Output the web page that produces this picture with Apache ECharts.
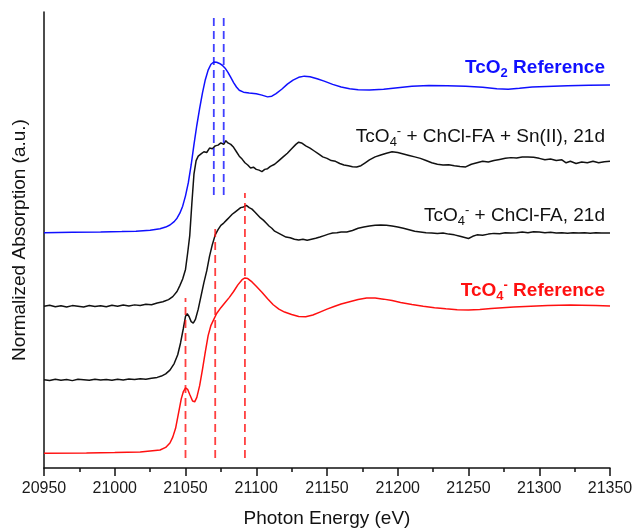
<!DOCTYPE html>
<html>
<head>
<meta charset="utf-8">
<title>Tc K-edge XANES</title>
<script src="https://cdn.jsdelivr.net/npm/echarts@6/dist/echarts.min.js"></script>
<style>
  html, body { margin: 0; padding: 0; background: #ffffff; }
  #chart { width: 634px; height: 529px; }
</style>
</head>
<body>
<div id="chart"></div>
<script>
// Normalized Tc K-edge XANES spectra, stacked with vertical offsets.

const xTicks = [20950, 21350, 50];

// TcO2 reference
const tco2Energy = [20950, 20970, 20990, 21005, 21015, 21025, 21032, 21036, 21039, 21042, 21044, 21046, 21048, 21050, 21052, 21054, 21056, 21058, 21060, 21062, 21064, 21066, 21068, 21070, 21072, 21074, 21076, 21078, 21080, 21082, 21084, 21086, 21088, 21091, 21095, 21100, 21104, 21108, 21111, 21114, 21118, 21122, 21126, 21130, 21134, 21138, 21143, 21148, 21154, 21160, 21166, 21172, 21180, 21190, 21200, 21210, 21222, 21235, 21248, 21260, 21270, 21278, 21286, 21295, 21305, 21320, 21335, 21350];
const tco2Mu = [0.000, 0.002, 0.004, 0.007, 0.010, 0.016, 0.026, 0.038, 0.052, 0.075, 0.098, 0.132, 0.180, 0.250, 0.340, 0.460, 0.600, 0.730, 0.845, 0.950, 1.040, 1.105, 1.145, 1.160, 1.158, 1.150, 1.138, 1.118, 1.090, 1.055, 1.020, 0.990, 0.968, 0.955, 0.950, 0.944, 0.935, 0.923, 0.928, 0.945, 0.975, 1.010, 1.037, 1.056, 1.064, 1.060, 1.046, 1.030, 1.008, 0.990, 0.978, 0.972, 0.970, 0.975, 0.985, 0.995, 1.000, 0.998, 0.995, 0.988, 0.978, 0.975, 0.982, 0.990, 0.994, 0.998, 1.002, 1.004];

// TcO4- + ChCl-FA + Sn(II), 21 d
const snEnergy = [20950, 20954, 20958, 20962, 20966, 20970, 20974, 20978, 20982, 20986, 20990, 20994, 20998, 21002, 21006, 21010, 21014, 21018, 21022, 21026, 21030, 21034, 21038, 21041, 21044, 21046, 21048, 21050, 21051.5, 21053, 21054.5, 21056, 21057.5, 21059, 21061, 21063, 21065, 21067, 21069, 21071, 21073, 21075, 21077, 21078.5, 21080, 21082, 21084, 21086, 21088, 21090, 21092, 21094, 21096, 21098, 21100, 21102, 21104, 21106, 21108, 21110, 21113, 21116, 21119, 21122, 21125, 21128, 21130, 21132, 21135, 21138, 21141, 21144, 21147, 21150, 21153, 21156, 21159, 21162, 21165, 21168, 21171, 21174, 21177, 21180, 21184, 21188, 21192, 21196, 21200, 21204, 21208, 21212, 21216, 21220, 21224, 21228, 21232, 21236, 21240, 21244, 21248, 21252, 21256, 21260, 21264, 21268, 21272, 21276, 21280, 21284, 21288, 21292, 21296, 21300, 21304, 21308, 21312, 21316, 21319, 21322, 21326, 21330, 21334, 21338, 21342, 21346, 21350];
const snMu = [0.000, 0.006, -0.004, 0.003, -0.006, 0.004, 0.000, -0.005, 0.005, -0.002, 0.003, -0.004, 0.006, 0.000, 0.008, 0.002, 0.009, 0.004, 0.013, 0.010, 0.022, 0.030, 0.045, 0.065, 0.100, 0.140, 0.185, 0.250, 0.360, 0.480, 0.700, 0.900, 0.990, 1.020, 1.035, 1.050, 1.045, 1.075, 1.070, 1.090, 1.095, 1.110, 1.100, 1.125, 1.110, 1.100, 1.080, 1.050, 1.020, 1.000, 0.975, 0.960, 0.940, 0.945, 0.930, 0.925, 0.915, 0.930, 0.935, 0.950, 0.965, 0.990, 1.015, 1.040, 1.070, 1.100, 1.115, 1.110, 1.090, 1.075, 1.055, 1.035, 1.015, 1.005, 0.990, 0.985, 0.970, 0.960, 0.955, 0.948, 0.946, 0.955, 0.975, 0.995, 1.015, 1.028, 1.040, 1.050, 1.045, 1.035, 1.025, 1.015, 1.005, 0.990, 0.975, 0.965, 0.960, 0.962, 0.955, 0.950, 0.947, 0.965, 0.975, 0.985, 0.980, 0.990, 0.998, 1.005, 1.010, 1.008, 1.014, 1.015, 1.012, 1.005, 0.995, 1.000, 0.990, 0.995, 0.975, 0.985, 0.970, 0.980, 0.975, 0.985, 0.975, 0.982, 0.985];

// TcO4- + ChCl-FA, 21 d
const fa21Energy = [20950, 20954, 20958, 20962, 20966, 20970, 20974, 20978, 20982, 20986, 20990, 20994, 20998, 21002, 21006, 21010, 21014, 21018, 21022, 21026, 21030, 21033, 21036, 21039, 21042, 21044.5, 21046.5, 21048.5, 21050, 21051.2, 21052.5, 21054, 21055.5, 21057, 21059, 21061, 21063, 21065, 21067, 21069, 21071, 21073, 21075, 21077, 21079, 21081, 21083, 21085, 21087, 21089, 21091, 21093, 21095, 21097, 21099, 21101, 21103, 21105, 21107, 21109, 21111, 21113, 21115, 21118, 21121, 21124, 21127, 21130, 21133, 21136, 21139, 21142, 21145, 21148, 21151, 21154, 21157, 21160, 21164, 21168, 21172, 21176, 21180, 21184, 21188, 21192, 21196, 21200, 21204, 21208, 21212, 21216, 21220, 21224, 21228, 21232, 21236, 21240, 21244, 21248, 21250, 21253, 21256, 21260, 21264, 21268, 21272, 21276, 21280, 21284, 21288, 21292, 21296, 21300, 21304, 21308, 21312, 21316, 21320, 21324, 21328, 21332, 21336, 21340, 21344, 21350];
const fa21Mu = [0.000, -0.005, 0.004, -0.003, 0.002, -0.006, 0.003, 0.000, -0.004, 0.004, -0.002, 0.002, -0.004, 0.003, -0.002, 0.005, 0.001, 0.006, 0.004, 0.010, 0.016, 0.025, 0.040, 0.065, 0.110, 0.170, 0.250, 0.350, 0.430, 0.450, 0.430, 0.395, 0.385, 0.410, 0.480, 0.570, 0.660, 0.740, 0.840, 0.920, 0.985, 1.020, 1.050, 1.065, 1.085, 1.105, 1.125, 1.140, 1.155, 1.170, 1.175, 1.185, 1.170, 1.160, 1.140, 1.120, 1.100, 1.085, 1.065, 1.045, 1.030, 1.010, 1.000, 0.985, 0.970, 0.965, 0.955, 0.950, 0.955, 0.948, 0.955, 0.962, 0.970, 0.980, 0.990, 0.998, 1.000, 1.005, 1.004, 1.015, 1.030, 1.038, 1.045, 1.050, 1.052, 1.050, 1.045, 1.038, 1.030, 1.020, 1.010, 1.005, 1.000, 0.998, 0.995, 0.998, 0.990, 0.985, 0.975, 0.965, 0.960, 0.975, 0.985, 0.982, 0.990, 0.995, 0.992, 1.000, 0.998, 1.000, 1.004, 1.000, 1.006, 1.004, 1.000, 1.002, 0.998, 1.000, 0.996, 1.000, 0.998, 1.000, 0.996, 1.000, 0.997, 0.998];

// TcO4- reference
const tco4Energy = [20950, 20980, 21000, 21018, 21032, 21036, 21039, 21041, 21043, 21045, 21047, 21048.5, 21050, 21051.5, 21053, 21055, 21056.5, 21058, 21060, 21062, 21064, 21066, 21068, 21070, 21072, 21075, 21078, 21081, 21084, 21087, 21090, 21092, 21094, 21097, 21100, 21104, 21108, 21112, 21116, 21120, 21125, 21130, 21135, 21140, 21145, 21150, 21155, 21160, 21166, 21172, 21178, 21184, 21190, 21196, 21202, 21210, 21218, 21226, 21234, 21242, 21250, 21258, 21266, 21274, 21282, 21290, 21298, 21306, 21314, 21322, 21330, 21340, 21350];
const tco4Mu = [0.000, 0.002, 0.005, 0.009, 0.022, 0.040, 0.070, 0.110, 0.170, 0.270, 0.370, 0.420, 0.445, 0.435, 0.400, 0.355, 0.350, 0.380, 0.460, 0.570, 0.690, 0.800, 0.870, 0.910, 0.950, 0.990, 1.025, 1.060, 1.100, 1.145, 1.180, 1.192, 1.188, 1.165, 1.135, 1.095, 1.050, 1.010, 0.980, 0.960, 0.943, 0.930, 0.928, 0.940, 0.960, 0.980, 0.998, 1.015, 1.030, 1.045, 1.055, 1.056, 1.048, 1.038, 1.025, 1.012, 1.000, 0.990, 0.982, 0.976, 0.974, 0.978, 0.985, 0.990, 0.994, 0.998, 1.001, 1.004, 1.006, 1.008, 1.007, 1.004, 1.001];

// stacking offsets (bottom to top: TcO4-, ChCl-FA, Sn(II), TcO2)
const offsets = { tco4: 0.0, fa21: 0.5, sn: 1.0, tco2: 1.5 };

// vertical guide lines at features
const blueGuideEnergy = [21070, 21077];
const blueGuideRange = [1.756, 2.99];
const redGuideEnergy = [21050, 21071, 21092];
const redGuideTop = [1.056, 1.538, 1.770];
const redGuideBottom = -0.032;

const BLUE = '#1010ff';
const RED = '#ff1010';
const BLACK = '#111111';
const FONT = '"Liberation Sans", Arial, Helvetica, sans-serif';

function pairs(xs, ys, off) {
  return xs.map((x, i) => [x, ys[i] + off]);
}

function curve(name, xs, ys, off, color) {
  return {
    name: name,
    type: 'line',
    data: pairs(xs, ys, off),
    showSymbol: false,
    symbol: 'none',
    smooth: false,
    lineStyle: { color: color, width: 1.5 },
    silent: true,
    z: 3
  };
}

function guide(e, y0, y1, color) {
  return {
    type: 'line',
    data: [[e, y0], [e, y1]],
    showSymbol: false,
    symbol: 'none',
    lineStyle: { color: color, width: 1.8, type: [8, 5], opacity: 0.8 },
    silent: true,
    z: 4
  };
}

const series = [
  curve('TcO2 Reference', tco2Energy, tco2Mu, offsets.tco2, BLUE),
  curve('TcO4- + ChCl-FA + Sn(II), 21d', snEnergy, snMu, offsets.sn, BLACK),
  curve('TcO4- + ChCl-FA, 21d', fa21Energy, fa21Mu, offsets.fa21, BLACK),
  curve('TcO4- Reference', tco4Energy, tco4Mu, offsets.tco4, RED)
];
blueGuideEnergy.forEach(e => series.push(guide(e, blueGuideRange[0], blueGuideRange[1], BLUE)));
redGuideEnergy.forEach((e, i) => series.push(guide(e, redGuideBottom, redGuideTop[i], RED)));

function richStyles(color, weight) {
  return {
    n: { fontSize: 19, fontFamily: FONT, fontWeight: weight, color: color, lineHeight: 26 },
    sub: { fontSize: 13, fontFamily: FONT, fontWeight: weight, color: color, padding: [11, 0, 0, 0] },
    sup: { fontSize: 13, fontFamily: FONT, fontWeight: weight, color: color, padding: [0, 0, 11, 0] }
  };
}

function labelText(text, yPix, color, weight) {
  return {
    type: 'text',
    right: 29,
    top: yPix - 13,
    silent: true,
    style: {
      text: text,
      fill: color,
      font: weight + ' 19px ' + FONT,
      rich: richStyles(color, weight)
    },
    z: 10
  };
}

const chart = echarts.init(document.getElementById('chart'), null, { renderer: 'canvas' });
chart.setOption({
  animation: false,
  backgroundColor: '#ffffff',
  grid: { left: 44, right: 24, top: 12, bottom: 61, containLabel: false, outerBoundsMode: 'none' },
  xAxis: {
    type: 'value',
    min: xTicks[0],
    max: xTicks[1],
    interval: xTicks[2],
    name: 'Photon Energy (eV)',
    nameLocation: 'middle',
    nameGap: 41,
    nameTextStyle: { fontSize: 19, fontFamily: FONT, color: BLACK },
    axisLine: { show: true, onZero: false, lineStyle: { color: BLACK, width: 1.5 } },
    axisTick: { show: true, inside: false, length: 8, lineStyle: { color: BLACK, width: 1.5 } },
    minorTick: { show: true, splitNumber: 2, length: 4, lineStyle: { color: BLACK, width: 1.5 } },
    splitLine: { show: false },
    minorSplitLine: { show: false },
    axisLabel: { fontSize: 16, fontFamily: FONT, color: '#1a1a1a', margin: 13, formatter: v => String(v) }
  },
  yAxis: {
    type: 'value',
    min: -0.1,
    max: 3.0,
    name: 'Normalized Absorption (a.u.)',
    nameLocation: 'middle',
    nameGap: 15,
    nameTextStyle: { fontSize: 19, fontFamily: FONT, color: BLACK },
    axisLine: { show: true, onZero: false, lineStyle: { color: BLACK, width: 1.5 } },
    axisTick: { show: false },
    axisLabel: { show: false },
    splitLine: { show: false }
  },
  graphic: [
    labelText('{n|TcO}{sub|2}{n| Reference}', 71, BLUE, 'bold'),
    labelText('{n|TcO}{sub|4}{sup|-}{n| + ChCl-FA + Sn(II), 21d}', 138, BLACK, 'normal'),
    labelText('{n|TcO}{sub|4}{sup|-}{n| + ChCl-FA, 21d}', 217, BLACK, 'normal'),
    labelText('{n|TcO}{sub|4}{sup|-}{n| Reference}', 292, RED, 'bold')
  ],
  series: series
});
</script>
</body>
</html>
